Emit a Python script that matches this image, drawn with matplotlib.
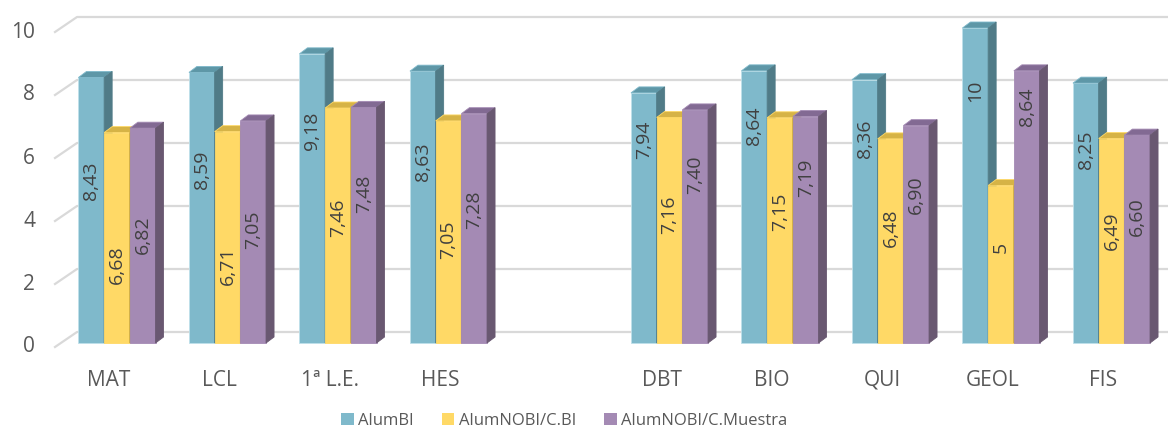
import matplotlib.pyplot as plt
from matplotlib.patches import Polygon, Patch

# data (empty slot between HES and DBT)
categories = ["MAT", "LCL", "1ª L.E.", "HES", "", "DBT", "BIO", "QUI", "GEOL", "FIS"]
alum_bi = [8.43, 8.59, 9.18, 8.63, None, 7.94, 8.64, 8.36, 10, 8.25]
nobi_cbi = [6.68, 6.71, 7.46, 7.05, None, 7.16, 7.15, 6.48, 5, 6.49]
nobi_muestra = [6.82, 7.05, 7.48, 7.28, None, 7.40, 7.19, 6.90, 8.64, 6.60]
series_names = ["AlumBI", "AlumNOBI/C.BI", "AlumNOBI/C.Muestra"]

# where the rotated labels sit (value units, as placed in the original)
label_y = [
    [5.15, 5.5, 6.75, 5.75, None, 6.45, 6.9, 6.5, 8.0, 6.15],
    [2.48, 2.44, 3.99, 3.27, None, 4.06, 4.16, 3.65, 3.02, 3.56],
    [3.43, 3.59, 4.73, 4.22, None, 5.33, 5.24, 4.7, 7.5, 4.0],
]

faces = [
    ("#7FB9CB", "#5E97A7", "#507B87"),
    ("#FFD966", "#D6B346", "#B99A3A"),
    ("#A48AB4", "#826A93", "#695871"),
]

plt.rcParams['font.family'] = ['Open Sans', 'DejaVu Sans']

fig = plt.figure(figsize=(11.68, 4.3), dpi=100)
ax = fig.add_axes([0, 0, 1, 1])
# 1 x unit = 110.5 px (category step), 1 y unit = 31.5 px
ax.set_xlim(-117 / 110.5, (1168 - 117) / 110.5)
ax.set_ylim(-87 / 31.5, (430 - 87) / 31.5)
ax.axis("off")

px = 1 / 110.5
py = 1 / 31.5

# gridlines with a little perspective
for v in range(0, 11, 2):
    yf = v - 4 * py
    yb = yf + 15 * py
    ax.plot([-62 * px, -40 * px, 10], [yf, yb, yb], color="#D9D9D9", lw=1.6, zorder=0)
    ax.text(-82 * px, yf, str(v), ha="right", va="center", fontsize=15, color="#595959")

w = 25.7 * px
dx = 8 * px
dy = 6 * py
data = [alum_bi, nobi_cbi, nobi_muestra]
for s, vals in enumerate(data):
    front, top, side = faces[s]
    for i, v in enumerate(vals):
        if v is None:
            continue
        x0 = i + (s - 1.5) * w
        x1 = x0 + w
        ax.bar(x0, v, width=w, align="edge", color=front, edgecolor="#BFE0EA" if s == 0 else front,
               lw=0.6, zorder=2 + s)
        ax.add_patch(Polygon([(x0, v), (x1, v), (x1 + dx, v + dy), (x0 + dx, v + dy)],
                             closed=True, facecolor=top, edgecolor=front, lw=0.6, zorder=2 + s))
        ax.add_patch(Polygon([(x1, 0), (x1 + dx, dy), (x1 + dx, v + dy), (x1, v)],
                             closed=True, facecolor=side, edgecolor=side, lw=0.6, zorder=2 + s))
        txt = ("%.2f" % v).replace(".", ",") if v != int(v) else str(int(v))
        ax.text(x0 + w / 2, label_y[s][i], txt, rotation=90, ha="center", va="center",
                fontsize=14, color="#404040", zorder=10)

for i, c in enumerate(categories):
    ax.text(i - 8 * px, -37 * py, c, ha="center", va="center", fontsize=15, color="#595959")

handles = [Patch(facecolor=f[0]) for f in faces]
fig.legend(handles, series_names, loc="center", bbox_to_anchor=(0.483, 1 - 421 / 430), ncol=3,
           frameon=False, fontsize=12, handlelength=0.75, handleheight=0.75, handletextpad=0.25,
           columnspacing=1.7, labelcolor="#595959")

fig.savefig("out.png", dpi=100)
